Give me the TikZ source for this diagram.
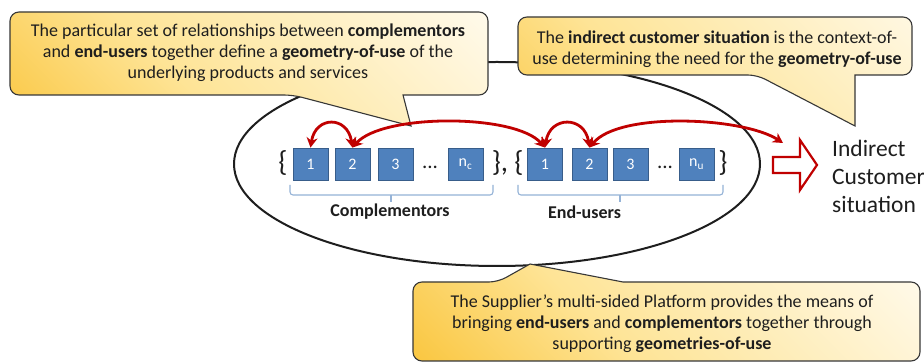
\documentclass[tikz,border=0pt]{standalone}
\usepackage{fontspec}
\setmainfont{Carlito}
\usetikzlibrary{arrows.meta}

\definecolor{calloutGold}{RGB}{248,186,28}
\definecolor{calloutMid}{RGB}{254,228,150}
\definecolor{calloutCream}{RGB}{255,253,247}
\definecolor{calloutEdge}{RGB}{55,55,55}
\definecolor{boxFill}{RGB}{79,129,189}
\definecolor{boxEdge}{RGB}{56,93,138}
\definecolor{braceBlue}{RGB}{149,179,215}
\definecolor{linkRed}{RGB}{192,0,0}
\definecolor{inkGray}{RGB}{30,30,30}

% diagonal fade for the callout fills, painted on a square so the angle stays true
\pgfdeclarehorizontalshading{calloutfade}{100bp}{%
  color(0bp)=(calloutGold); color(25bp)=(calloutGold); color(45bp)=(calloutMid);
  color(72bp)=(calloutCream); color(100bp)=(calloutCream)}

\tikzset{
  callout/.style={draw=calloutEdge, line width=1.1pt,
    path picture={\shade[shading=calloutfade, shading angle=45]
      ([shift={(-280pt,-280pt)}]path picture bounding box.center) rectangle
      ([shift={(280pt,280pt)}]path picture bounding box.center);}},
  notetext/.style={align=center, text=inkGray, inner sep=0pt,
    font=\fontsize{18}{21}\selectfont},
  member/.style={draw=boxEdge, fill=boxFill, line width=0.8pt,
    minimum width=35pt, minimum height=32pt, inner sep=0pt, text=white,
    font=\fontsize{16}{18}\selectfont},
  setbrace/.style={inner sep=0pt, text=inkGray, font=\fontsize{29}{30}\selectfont},
  dots/.style={inner sep=0pt, text=inkGray, font=\fontsize{21}{24}\selectfont},
  bracket/.style={draw=braceBlue, line width=1.1pt, rounded corners=3pt},
  grouplabel/.style={inner sep=0pt, text=inkGray, font=\bfseries\fontsize{18}{20}\selectfont},
  link/.style={draw=linkRed, line width=2.8pt,
    {Stealth[length=10pt,width=11pt]}-{Stealth[length=10pt,width=11pt]}},
  hollowarrow/.style={draw=linkRed, line width=2.2pt, fill=white, line join=miter}
}

\begin{document}
\begin{tikzpicture}[x=1pt,y=-1pt]
  % canvas
  \fill[white] (0,0) rectangle (924,363);
  \useasboundingbox (0,0) rectangle (924,363);

  % the platform
  \draw[line width=2pt, inkGray] (497,164) ellipse [x radius=263pt, y radius=102pt];

  % callouts
  \path[callout] (293,95) -- (411,126) -- (403,95) [rounded corners=9pt]
    -- (488,95) -- (488,12) -- (10,12) -- (10,95) -- cycle;
  \node[notetext] (noteA) at (248,53)
    {The particular set of relationships between \textbf{complementors}\\
     and \textbf{end-users} together define a \textbf{geometry-of-use} of the\\
     underlying products and services};

  \path[callout] (757,75) -- (855,126) -- (855,75) [rounded corners=9pt]
    -- (912,75) -- (912,17) -- (518,17) -- (518,75) -- cycle;
  \node[notetext] (noteB) at (717,49)
    {The \textbf{indirect customer situation} is the context-of-\\
     use determining the need for the \textbf{geometry-of-use}};

  \path[callout] (498,282) -- (530,264) -- (623,282) [rounded corners=9pt]
    -- (920,282) -- (920,361) -- (413,361) -- (413,282) -- cycle;
  \node[notetext] (noteC) at (662,324)
    {The Supplier’s multi-sided Platform provides the means of\\
     bringing \textbf{end-users} and \textbf{complementors} together through\\
     supporting \textbf{geometries-of-use}};

  % complementors
  \node[setbrace] (openC) at (283,163) {\{};
  \node[member] (c1) at (310.5,164) {1};
  \node[member] (c2) at (352.5,164) {2};
  \node[member] (c3) at (395.5,164) {3};
  \node[dots] (dotsC) at (430,167) {...};
  \node[member] (cn) at (465.5,164) {n\textsubscript{c}};
  \node[setbrace] (closeC) at (500,163) {\},};

  % end-users
  \node[setbrace] (openE) at (519,163) {\{};
  \node[member] (e1) at (545,164) {1};
  \node[member] (e2) at (589.5,164) {2};
  \node[member] (e3) at (630.5,164) {3};
  \node[dots] (dotsE) at (665,167) {...};
  \node[member] (en) at (696.5,164) {n\textsubscript{u}};
  \node[setbrace] (closeE) at (723,163) {\}};

  % group brackets
  \draw[bracket] (290,185) -- (290,195) -- (493,195) -- (493,185);
  \draw[bracket] (391,195) -- (391,202);
  \draw[bracket] (518,185) -- (518,195) -- (723,195) -- (723,185);
  \draw[bracket] (620,195) -- (620,202);
  \node[grouplabel] (lblC) at (390,212) {Complementors};
  \node[grouplabel] (lblE) at (584.5,212) {End-users};

  % indirect customer situation
  \path[hollowarrow] (773,157) -- (800,157) -- (800,140) -- (817,165)
    -- (800,190) -- (800,173) -- (773,173) -- cycle;
  \coordinate (ics) at (783,143);
  \node[anchor=west, align=left, inner sep=0pt, text=inkGray,
    font=\fontsize{23.5}{28}\selectfont] (situation) at (832,176)
    {Indirect\\Customer\\situation};

  % relationships
  \draw[link] (c1.north) .. controls +(5,-32) and +(-5,-32) .. (c2.north);
  \draw[link] (c2.north) .. controls +(30,-34) and +(-30,-34) .. (e1.north);
  \draw[link] (e1.north) .. controls +(5,-32) and +(-5,-32) .. (e2.north);
  \draw[link] (e2.north) .. controls +(30,-36) and +(-40,-26) .. (ics);
\end{tikzpicture}
\end{document}
